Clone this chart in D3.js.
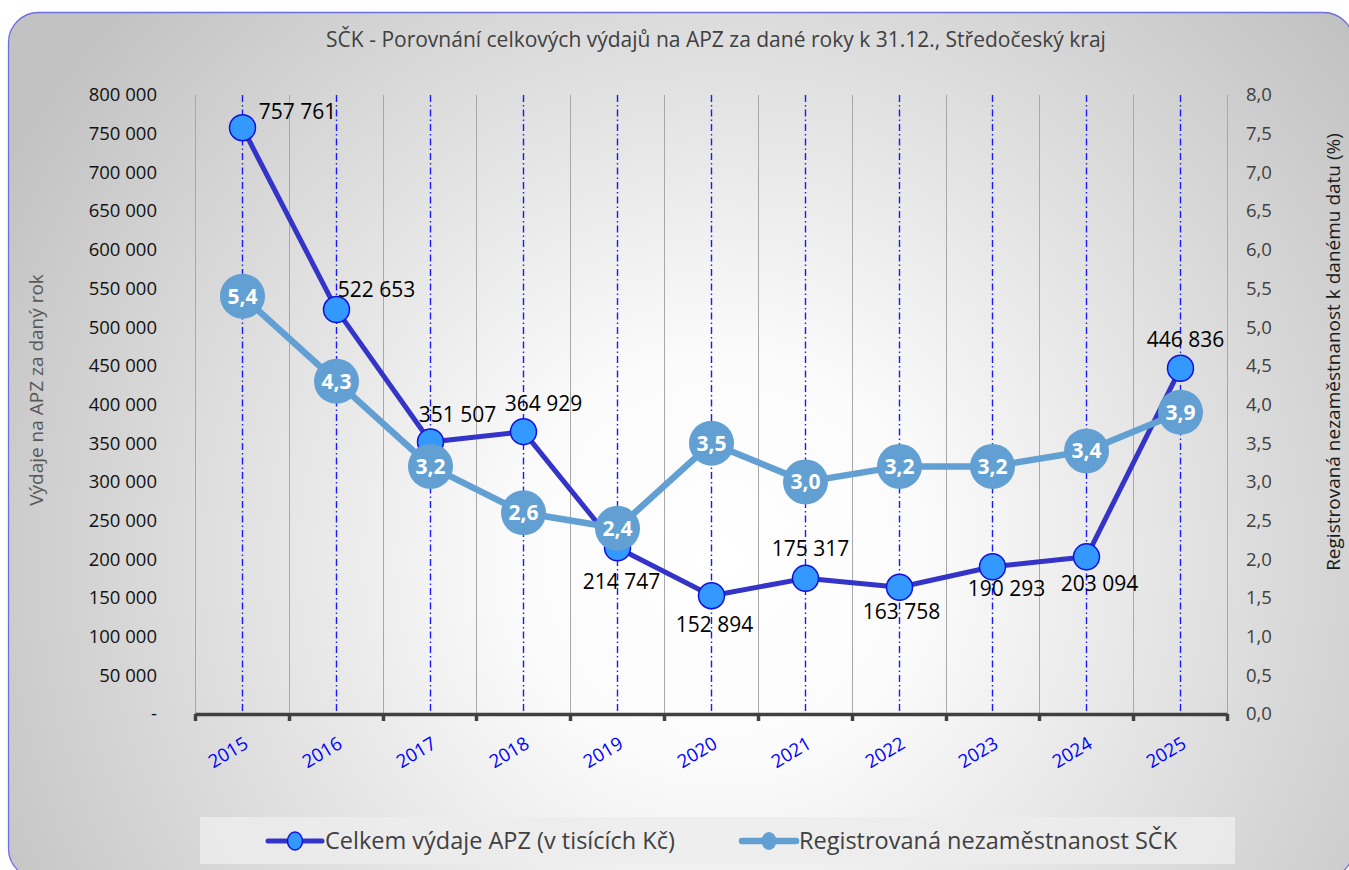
<!DOCTYPE html>
<html>
<head>
<meta charset="utf-8">
<script src="https://cdn.jsdelivr.net/npm/d3@7"></script>
<style>
  html, body { margin: 0; padding: 0; background: #fff; }
  svg { display: block; font-family: "Open Sans", "DejaVu Sans", sans-serif; }
</style>
</head>
<body>
<div id="chart"></div>
<script>
// data
var years = ['2015', '2016', '2017', '2018', '2019', '2020', '2021', '2022', '2023', '2024', '2025']
var vydajeAPZ = [757761, 522653, 351507, 364929, 214747, 152894, 175317, 163758, 190293, 203094, 446836]
var nezamestnanost = [5.4, 4.3, 3.2, 2.6, 2.4, 3.5, 3.0, 3.2, 3.2, 3.4, 3.9]
var leftTicks = d3.range(0, 800001, 50000)
var rightTicks = d3.range(0, 8.01, 0.5)

// umisteni popisku APZ (posun stredu popisku od znacky)
var labelDx = [55, 40, 27, 20, 4, 3, 5, 2, 14, 13, 5]
var labelDy = [-9, -13, -20, -21, 41, 36, -22, 32, 29, 34, -21]

var width = 1349
var height = 870
var plot = { left: 195, right: 1227, top: 95, bottom: 714 }

var svg = d3.select('#chart').append('svg')
  .attr('width', width)
  .attr('height', height)

// pozadi
var defs = svg.append('defs')
var grad = defs.append('radialGradient')
  .attr('id', 'bg')
  .attr('gradientUnits', 'userSpaceOnUse')
  .attr('cx', 720).attr('cy', 560).attr('r', 820)
grad.append('stop').attr('offset', '0').attr('stop-color', '#ffffff')
grad.append('stop').attr('offset', '0.25').attr('stop-color', '#fbfbfb')
grad.append('stop').attr('offset', '1').attr('stop-color', '#c2c2c2')

svg.append('rect')
  .attr('x', 8.5).attr('y', 12.5)
  .attr('width', 1345).attr('height', 866)
  .attr('rx', 30).attr('ry', 30)
  .attr('fill', 'url(#bg)')
  .attr('stroke', '#6e6ee0')
  .attr('stroke-width', 1.3)

// titulek
svg.append('text')
  .attr('x', 716).attr('y', 47)
  .attr('text-anchor', 'middle')
  .attr('font-size', '21px')
  .attr('fill', '#404040')
  .text('SČK - Porovnání celkových výdajů na APZ za dané roky k 31.12., Středočeský kraj')

// meritka
var x = d3.scaleBand().domain(years).range([plot.left, plot.right]).padding(0)
var cx = function (d) { return Math.round(x(d) + x.bandwidth() / 2) + 0.5 }
var yL = d3.scaleLinear().domain([0, 800000]).range([plot.bottom, plot.top])
var yR = d3.scaleLinear().domain([0, 8]).range([plot.bottom, plot.top])

// sede mrizky na hranicich kategorii
var bounds = years.map(function (d) { return Math.round(x(d)) + 0.5 }).concat([plot.right + 0.5])
svg.append('g').selectAll('line')
  .data(bounds)
  .enter()
  .append('line')
  .attr('x1', function (d) { return d }).attr('x2', function (d) { return d })
  .attr('y1', plot.top).attr('y2', plot.bottom)
  .attr('stroke', '#a8a8a8')
  .attr('stroke-width', 1)

// modre carkovane cary uprostred kategorii
svg.append('g').selectAll('line')
  .data(years)
  .enter()
  .append('line')
  .attr('x1', cx).attr('x2', cx)
  .attr('y1', plot.top).attr('y2', plot.bottom)
  .attr('stroke', '#1a1aff')
  .attr('stroke-width', 1.4)
  .attr('stroke-dasharray', '7,3,1.5,3')

// leva osa
var fmtL = function (d) { return d === 0 ? '-' : d3.format(',')(d).replace(/,/g, ' ') }
var axL = svg.append('g')
  .attr('transform', 'translate(157,0)')
  .call(d3.axisLeft(yL).tickValues(leftTicks).tickSize(0).tickPadding(0).tickFormat(fmtL))
axL.select('.domain').remove()
axL.selectAll('text')
  .attr('font-size', '18.5px')
  .attr('font-family', '"Open Sans", sans-serif')
  .attr('fill', '#111')

// prava osa
var fmtR = function (d) { return d3.format('.1f')(d).replace('.', ',') }
var axR = svg.append('g')
  .attr('transform', 'translate(1246,0)')
  .call(d3.axisRight(yR).tickValues(rightTicks).tickSize(0).tickPadding(0).tickFormat(fmtR))
axR.select('.domain').remove()
axR.selectAll('text')
  .attr('font-size', '18.5px')
  .attr('font-family', '"Open Sans", sans-serif')
  .attr('fill', '#404040')

// osa x
var axX = svg.append('g')
  .attr('transform', 'translate(0,' + plot.bottom + ')')
  .call(d3.axisBottom(x).tickValues([]).tickSizeOuter(0))
axX.select('.domain')
  .attr('stroke', '#404040')
  .attr('stroke-width', 3.5)
axX.selectAll('.tm')
  .data(bounds)
  .enter()
  .append('line')
  .attr('class', 'tm')
  .attr('x1', function (d) { return d }).attr('x2', function (d) { return d })
  .attr('y1', 0).attr('y2', 7)
  .attr('stroke', '#404040')
  .attr('stroke-width', 3.5)
axX.selectAll('.yl')
  .data(years)
  .enter()
  .append('text')
  .attr('class', 'yl')
  .attr('text-anchor', 'end')
  .attr('transform', function (d) { return 'translate(' + (cx(d) + 7) + ',33) rotate(-31)' })
  .attr('font-size', '18.5px')
  .attr('font-family', '"Open Sans", sans-serif')
  .attr('fill', '#0000ff')
  .text(function (d) { return d })

// popisky os
svg.append('text')
  .attr('transform', 'translate(43,390) rotate(-90)')
  .attr('text-anchor', 'middle')
  .attr('font-size', '19px')
  .attr('fill', '#595959')
  .text('Výdaje na APZ za daný rok')
svg.append('text')
  .attr('transform', 'translate(1340,352) rotate(-90)')
  .attr('text-anchor', 'middle')
  .attr('font-size', '19px')
  .attr('fill', '#1a1a1a')
  .text('Registrovaná nezaměstnanost k danému datu (%)')

// rada APZ
var lineL = d3.line()
  .x(function (d, i) { return cx(years[i]) })
  .y(function (d) { return yL(d) })
svg.append('path')
  .datum(vydajeAPZ)
  .attr('d', lineL)
  .attr('fill', 'none')
  .attr('stroke', '#3434c8')
  .attr('stroke-width', 5)
  .attr('stroke-linejoin', 'round')
svg.append('g').selectAll('circle')
  .data(vydajeAPZ)
  .enter()
  .append('circle')
  .attr('cx', function (d, i) { return cx(years[i]) })
  .attr('cy', function (d) { return yL(d) })
  .attr('r', 13)
  .attr('fill', '#3399ff')
  .attr('stroke', '#1010e0')
  .attr('stroke-width', 1.5)
svg.append('g').selectAll('text')
  .data(vydajeAPZ)
  .enter()
  .append('text')
  .attr('x', function (d, i) { return cx(years[i]) + labelDx[i] })
  .attr('y', function (d, i) { return yL(d) + labelDy[i] })
  .attr('text-anchor', 'middle')
  .attr('font-size', '21px')
  .attr('fill', '#000')
  .text(function (d) { return fmtL(d) })

// rada nezamestnanost
var lineR = d3.line()
  .x(function (d, i) { return cx(years[i]) })
  .y(function (d) { return yR(d) })
svg.append('path')
  .datum(nezamestnanost)
  .attr('d', lineR)
  .attr('fill', 'none')
  .attr('stroke', '#629fd2')
  .attr('stroke-width', 6.5)
  .attr('stroke-linejoin', 'round')
svg.append('g').selectAll('circle')
  .data(nezamestnanost)
  .enter()
  .append('circle')
  .attr('cx', function (d, i) { return cx(years[i]) })
  .attr('cy', function (d) { return yR(d) })
  .attr('r', 22.5)
  .attr('fill', '#629fd2')
svg.append('g').selectAll('text')
  .data(nezamestnanost)
  .enter()
  .append('text')
  .attr('x', function (d, i) { return cx(years[i]) })
  .attr('y', function (d) { return yR(d) + 7.5 })
  .attr('text-anchor', 'middle')
  .attr('font-size', '21px')
  .attr('font-weight', 'bold')
  .attr('fill', '#fff')
  .text(function (d) { return fmtR(d) })

// legenda
var leg = svg.append('g')
leg.append('rect')
  .attr('x', 200).attr('y', 817)
  .attr('width', 1035).attr('height', 47)
  .attr('fill', '#ececec')
  .attr('fill-opacity', 0.85)
var legItems = [
  { x: 268, name: 'Celkem výdaje APZ (v tisících Kč)', color: '#3434c8', w: 5, fill: '#3399ff', stroke: '#1010e0' },
  { x: 742, name: 'Registrovaná nezaměstnanost SČK', color: '#629fd2', w: 6.5, fill: '#629fd2', stroke: 'none' }
]
legItems.forEach(function (it) {
  leg.append('line')
    .attr('x1', it.x).attr('x2', it.x + 54)
    .attr('y1', 841).attr('y2', 841)
    .attr('stroke', it.color)
    .attr('stroke-width', it.w)
    .attr('stroke-linecap', 'round')
  leg.append('ellipse')
    .attr('cx', it.x + 27).attr('cy', 841)
    .attr('rx', 7.5).attr('ry', 9)
    .attr('fill', it.fill)
    .attr('stroke', it.stroke)
    .attr('stroke-width', 1.5)
  leg.append('text')
    .attr('x', it.x + 57).attr('y', 849)
    .attr('font-size', '23.5px')
    .attr('fill', '#404040')
    .text(it.name)
})
</script>
</body>
</html>
